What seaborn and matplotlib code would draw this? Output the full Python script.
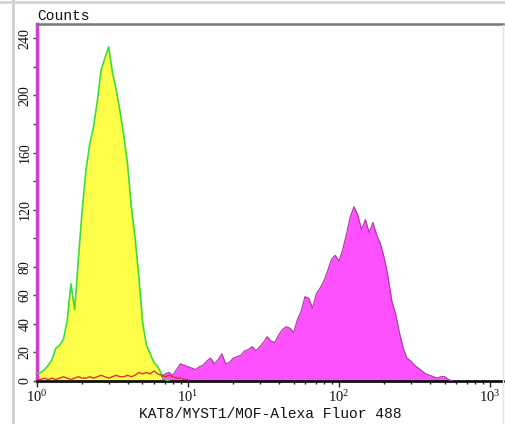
import numpy as np
import matplotlib
matplotlib.use("Agg")
import matplotlib.pyplot as plt
import seaborn as sns
from matplotlib.lines import Line2D
from matplotlib.ticker import FixedLocator, FixedFormatter, LogLocator, NullFormatter

# channel grid: log10 fluorescence, one value every 0.025 decade
channel_step = 0.025

# isotype / unstained control (yellow with green outline), starts at 10^0
green_start = 0.0
green_counts = [5, 6, 8, 11, 15, 23, 25, 29, 42, 68, 50, 86, 120, 148, 166, 178,
                196, 218, 226, 234, 216, 204, 189, 172, 152, 122, 100, 73, 41,
                25, 19, 13, 10, 5, 1, 0]

# KAT8 stained sample (magenta), starts at 10^0.825
magenta_start = 0.825
magenta_counts = [3, 5, 6, 4, 8, 12, 11, 10, 9, 8, 10, 11, 14, 16, 12, 15, 19,
                  12, 13, 16, 17, 18, 21, 22, 24, 21, 24, 27, 31, 28, 27, 32,
                  36, 38, 37, 34, 43, 49, 59, 58, 51, 61, 65, 70, 77, 85, 88,
                  84, 92, 103, 115, 122, 116, 106, 113, 104, 111, 102, 96, 86,
                  73, 56, 47, 34, 23, 16, 14, 11, 9, 7, 5, 4, 3, 2, 3, 3, 1, 0]

# secondary-only control (red line)
red_start = 0.0
red_counts = [1, 1, 2, 1, 2, 1, 2, 3, 2, 1, 2, 3, 2, 2, 3, 2, 3, 4, 3, 2, 3, 4,
              3, 3, 4, 3, 4, 6, 5, 6, 5, 7, 5, 4, 3, 4, 3, 2, 2, 1, 1]

y_ticks = [0, 20, 40, 60, 80, 100, 120, 140, 160, 180, 200, 220, 240]
y_labels = ["0", "20", "40", "60", "80", "", "120", "", "160", "", "200", "", "240"]
x_ticks = [1, 10, 100, 1000]
x_labels = [r"$\mathregular{10^0}$", r"$\mathregular{10^1}$",
            r"$\mathregular{10^2}$", r"$\mathregular{10^3}$"]


def channels(start, n):
    return 10 ** (start + channel_step * np.arange(n))


sns.set_theme(style="white")
plt.rcParams["font.family"] = ["Liberation Serif", "DejaVu Serif"]

fig = plt.figure(figsize=(5.06, 4.24), dpi=100)
ax = fig.add_axes([0.073, 0.1014, 0.921, 0.842])

xg = channels(green_start, len(green_counts))
ax.fill_between(xg, green_counts, color="#ffff4a", lw=0, zorder=2)
sns.lineplot(x=xg, y=green_counts, color="#3cdc3c", lw=1.2, ax=ax, zorder=3)

xm = channels(magenta_start, len(magenta_counts))
ax.fill_between(xm, magenta_counts, color="#ff50ff", lw=0, zorder=2)
sns.lineplot(x=xm, y=magenta_counts, color="#b03aa8", lw=0.9, ax=ax, zorder=3)

xr = channels(red_start, len(red_counts))
sns.lineplot(x=xr, y=red_counts, color="#e23030", lw=1.0, ax=ax, zorder=4)

ax.set_xscale("log")
ax.set_xlim(1, 10 ** 3.086)
ax.set_ylim(0, 250)

ax.xaxis.set_major_locator(FixedLocator(x_ticks))
ax.xaxis.set_major_formatter(FixedFormatter(x_labels))
ax.xaxis.set_minor_locator(LogLocator(base=10, subs=np.arange(2, 10)))
ax.xaxis.set_minor_formatter(NullFormatter())
ax.yaxis.set_major_locator(FixedLocator(y_ticks))
ax.yaxis.set_major_formatter(FixedFormatter(y_labels))

ax.tick_params(axis="x", which="major", direction="out", length=4, width=1,
               color="#222222", labelsize=10.5, labelcolor="#111111", pad=2,
               bottom=True)
ax.tick_params(axis="x", which="minor", direction="out", length=2, width=1,
               color="#222222", bottom=True)
ax.tick_params(axis="y", which="major", direction="out", length=3, width=1,
               color="#444444", labelsize=10, labelcolor="#111111", pad=1,
               left=True)
for lab in ax.get_yticklabels():
    lab.set_rotation(90)
    lab.set_va("center")

ax.spines["bottom"].set_color("#111111")
ax.spines["bottom"].set_linewidth(2)
ax.spines["left"].set_color("#d040d0")
ax.spines["left"].set_linewidth(2.5)
ax.spines["top"].set_color("#777777")
ax.spines["top"].set_linewidth(1.8)
ax.spines["right"].set_visible(False)

ax.set_xlabel("KAT8/MYST1/MOF-Alexa Fluor 488", family="Liberation Mono",
              fontsize=10.5, color="#111111", labelpad=1)
ax.set_ylabel("")
ax.text(0.0, 1.004, "Counts", transform=ax.transAxes, family="Liberation Mono",
        fontsize=10.5, color="#111111", ha="left", va="bottom")

# frame of the screenshot
fig.add_artist(Line2D([13 / 506, 13 / 506], [0, 1], color="#cfcfcf", lw=2))
fig.add_artist(Line2D([503 / 506, 503 / 506], [0, 0.94], color="#e4e4e4", lw=1))
fig.add_artist(Line2D([0, 1], [0.996, 0.996], color="#d8d0dc", lw=2))

fig.savefig("out.png", dpi=100)
